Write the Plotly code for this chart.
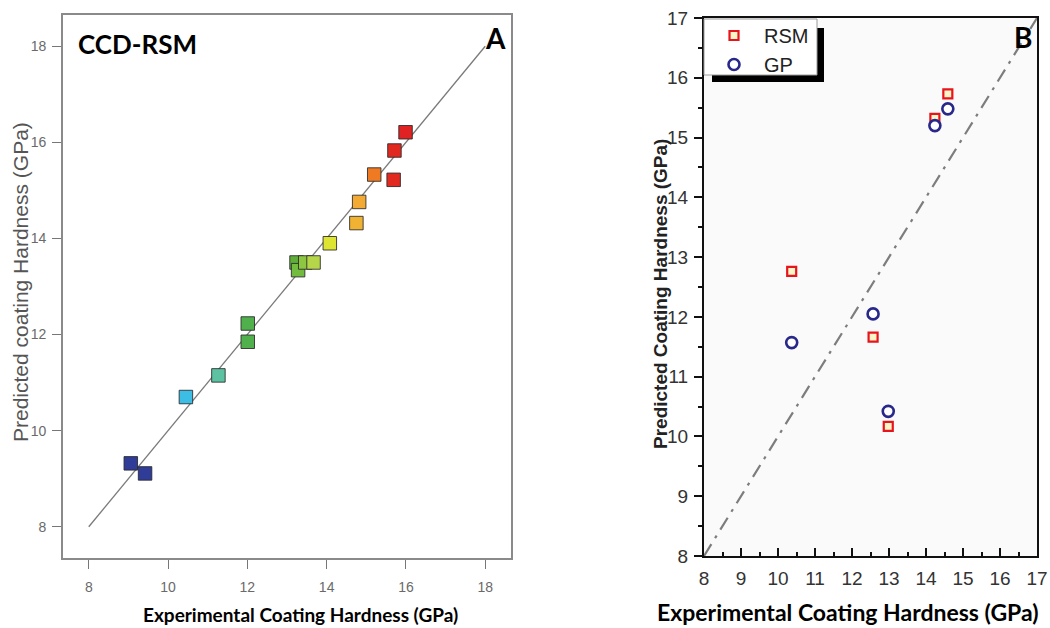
import plotly.graph_objects as go

W, H = 1050, 628

# ---------- Panel A data (CCD-RSM) ----------
a_exp = [9.06, 9.42, 10.45, 11.27, 12.01, 12.01, 13.24, 13.28, 13.46, 13.67,
         14.08, 14.75, 14.82, 15.20, 15.69, 15.71, 15.99]
a_pred = [9.32, 9.11, 10.70, 11.15, 11.85, 12.23, 13.50, 13.34, 13.50, 13.50,
          13.90, 14.32, 14.76, 15.33, 15.22, 15.83, 16.21]
a_colors = ["#2f3c98", "#2f3c98", "#3bbde6", "#5cc2a2", "#4fb04c", "#4fb04c",
            "#5fae3a", "#72bc40", "#8dc640", "#b4d648", "#dde432", "#f0b232",
            "#f2aa34", "#f07a22", "#e2291f", "#e2291f", "#e02222"]
a_line = [8, 18]
a_ticks = [8, 10, 12, 14, 16, 18]

# ---------- Panel B data (RSM vs GP) ----------
b_exp = [10.37, 12.57, 12.98, 14.24, 14.59]
b_rsm = [12.76, 11.66, 10.17, 15.32, 15.73]
b_gp = [11.57, 12.05, 10.42, 15.20, 15.48]
b_line = [8, 17]
b_ticks = list(range(8, 18))


def px(x):
    return x / W


def py(y):
    return 1 - y / H


fig = go.Figure()

# Panel A
fig.add_trace(go.Scatter(x=a_line, y=a_line, mode="lines",
                         line=dict(color="#7a7a7a", width=1.3),
                         showlegend=False, xaxis="x", yaxis="y", hoverinfo="skip"))
fig.add_trace(go.Scatter(x=a_exp, y=a_pred, mode="markers",
                         marker=dict(symbol="square", size=13.5, color=a_colors,
                                     line=dict(color="rgba(40,40,40,0.85)", width=1)),
                         showlegend=False, xaxis="x", yaxis="y"))

# Panel B
fig.add_trace(go.Scatter(x=b_line, y=b_line, mode="lines",
                         line=dict(color="#7d7d7d", width=2.2, dash="14px,7px,3px,7px"),
                         showlegend=False, xaxis="x2", yaxis="y2", hoverinfo="skip"))
fig.add_trace(go.Scatter(x=b_exp, y=b_rsm, mode="markers", name="RSM",
                         marker=dict(symbol="square", size=9, color="#fbf6c8",
                                     line=dict(color="#e8141c", width=2.2)),
                         xaxis="x2", yaxis="y2"))
fig.add_trace(go.Scatter(x=b_exp, y=b_gp, mode="markers", name="GP",
                         marker=dict(symbol="circle", size=11, color="#ffffff",
                                     line=dict(color="#27288a", width=2.6)),
                         xaxis="x2", yaxis="y2"))

axA_common = dict(range=[7.35, 18.65], tickvals=a_ticks, ticks="outside", ticklen=9,
                  tickcolor="#777", tickwidth=1.2, showline=True, linecolor="#8a8a8a",
                  linewidth=1.6, mirror=True, showgrid=False, zeroline=False,
                  automargin=False,
                  tickfont=dict(family="Liberation Sans, Arial", size=14, color="#6a6a6a"))

axB_common = dict(range=[8, 17], tickvals=b_ticks, showline=True, linecolor="#111",
                  linewidth=2, mirror=True, showgrid=False, zeroline=False,
                  tickcolor="#111", tickwidth=1.6, ticklen=8, automargin=False,
                  tickfont=dict(family="Liberation Sans, Arial", size=19, color="#333"))

fig.update_layout(
    width=W, height=H,
    margin=dict(l=0, r=0, t=0, b=0, autoexpand=False),
    paper_bgcolor="white", plot_bgcolor="rgba(0,0,0,0)",
    xaxis=dict(domain=[px(63), px(511)], anchor="y", ticklabelstandoff=6, **axA_common),
    yaxis=dict(domain=[py(558), py(15)], anchor="x", ticklabelstandoff=3, **axA_common),
    xaxis2=dict(domain=[px(704), px(1037)], anchor="y2", ticks="inside",
                minor=dict(ticks="inside", ticklen=4, dtick=0.5, tickcolor="#111"),
                ticklabelstandoff=4, **axB_common),
    yaxis2=dict(domain=[py(556), py(18)], anchor="x2", ticks="outside",
                minor=dict(ticks="outside", ticklen=4, dtick=0.5, tickcolor="#111"),
                ticklabelstandoff=2, **axB_common),
    legend=dict(x=px(704), y=py(16), xanchor="left", yanchor="top",
                bgcolor="rgba(0,0,0,0)", borderwidth=0,
                font=dict(family="Liberation Sans, Arial", size=20, color="#222"),
                itemwidth=50, tracegroupgap=0),
    showlegend=True,
)

# background of panel B, legend shadow and legend box
fig.add_shape(type="rect", xref="paper", yref="paper",
              x0=px(704), x1=px(1037), y0=py(556), y1=py(18),
              fillcolor="#fafafa", line=dict(width=0), layer="below")
fig.add_shape(type="rect", xref="paper", yref="paper",
              x0=px(712), x1=px(824), y0=py(82), y1=py(28),
              fillcolor="black", line=dict(width=0), layer="above")
fig.add_shape(type="rect", xref="paper", yref="paper",
              x0=px(704), x1=px(817), y0=py(75), y1=py(19),
              fillcolor="white", line=dict(width=1, color="#9a9a9a"), layer="above")

ann = [
    dict(text="<b>CCD-RSM</b>", x=px(76), y=py(44), xanchor="left", yanchor="middle",
         font=dict(family="Lato", size=26, color="black")),
    dict(text="<b>A</b>", x=px(508), y=py(38), xanchor="right", yanchor="middle",
         font=dict(family="Lato", size=28, color="black")),
    dict(text="<b>B</b>", x=px(1034), y=py(37), xanchor="right", yanchor="middle",
         font=dict(family="Lato", size=28, color="black")),
    dict(text="<b>Experimental Coating Hardness (GPa)</b>", x=px(300), y=py(614),
         xanchor="center", yanchor="middle",
         font=dict(family="Lato", size=19, color="black")),
    dict(text="<b>Experimental Coating Hardness (GPa)</b>", x=px(848), y=py(612),
         xanchor="center", yanchor="middle",
         font=dict(family="Lato", size=23, color="black")),
    dict(text="Predicted coating Hardness (GPa)", x=px(20), y=py(282), textangle=-90,
         xanchor="center", yanchor="middle",
         font=dict(family="Liberation Sans, Arial", size=21, color="#555")),
    dict(text="<b>Predicted Coating Hardness (GPa)</b>", x=px(660), y=py(294), textangle=-90,
         xanchor="center", yanchor="middle",
         font=dict(family="Liberation Sans, Arial", size=19, color="#222")),
]
for a in ann:
    a.update(xref="paper", yref="paper", showarrow=False)
    fig.add_annotation(**a)

fig.write_html("out.html", config={"displayModeBar": False},
               post_script="document.body.style.margin='0px';document.body.style.overflow='hidden';")
